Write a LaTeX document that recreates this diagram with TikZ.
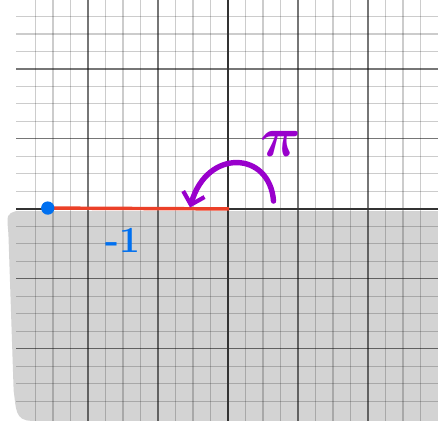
\RequirePackage{fix-cm}
\documentclass[tikz,border=0pt]{standalone}
\usepackage{tikz}
\usetikzlibrary{arrows.meta}

\definecolor{areagray}{RGB}{211,211,211}
\definecolor{segred}{RGB}{235,64,40}
\definecolor{dotblue}{RGB}{0,112,240}
\definecolor{turnpurple}{RGB}{153,0,204}

\tikzset{
  minorline/.style={black, opacity=0.2, line width=0.9pt},
  majorline/.style={black, opacity=0.42, line width=0.9pt},
  axisline/.style={black!80, line width=1.3pt},
  bluedot/.style={circle, fill=dotblue, inner sep=0pt, minimum size=0.38cm}
}

\begin{document}
\begin{tikzpicture}[x=0.5cm, y=0.5cm, line width=1.1pt]

  \useasboundingbox (-13.03,-12.11) rectangle (12.0,11.94);

  % ---------- shaded lower half ----------
  \fill[areagray] (-12.1,-0.12) -- (12.0,-0.12) -- (12.0,-12.11) -- (-11.2,-12.11)
        .. controls (-12.2,-12.11) and (-12.1,-11.4) .. (-12.25,-10.4)
        -- (-12.55,-1.4) .. controls (-12.65,-0.3) .. cycle;

  % ---------- grid ----------
  \foreach \k in {-11,...,11}{
    \draw[minorline] (\k,-12.11) -- (\k,11.94);
    \draw[minorline] (-12.1,\k) -- (12.0,\k);
  }
  \foreach \k in {-8,-4,4,8}{
    \draw[majorline] (\k,-12.11) -- (\k,11.94);
    \draw[majorline] (-12.1,\k) -- (12.0,\k);
  }

  % ---------- axes ----------
  \coordinate (O) at (0,0);
  \draw[axisline] (-12.1,0) -- (12.0,0);
  \draw[axisline] (0,-12.11) -- (0,11.94);

  % ---------- the point -1 and its segment ----------
  \draw[segred, line width=2.8pt] ([xshift=1pt]O) -- (-10.3,0.05) node[bluedot] (minusone) {};
  \node[dotblue, font=\fontsize{30}{30}\selectfont\bfseries] (minuslabel) at (-6.0,-1.8) {-1};

  % ---------- half turn ----------
  \coordinate (arcstart) at (2.6,0.45);
  \coordinate (arcend) at (-2.17,0.08);
  \draw[turnpurple, line width=4.4pt, line cap=round,
        -{Straight Barb[length=9pt, width=18pt, line width=3.4pt]}]
        (arcstart) .. controls (2.4,3.3) and (-1.2,3.5) .. (arcend);
  \node[turnpurple, font=\fontsize{46}{46}\selectfont\boldmath] (pilabel) at (3.0,3.7) {$\pi$};

\end{tikzpicture}
\end{document}
